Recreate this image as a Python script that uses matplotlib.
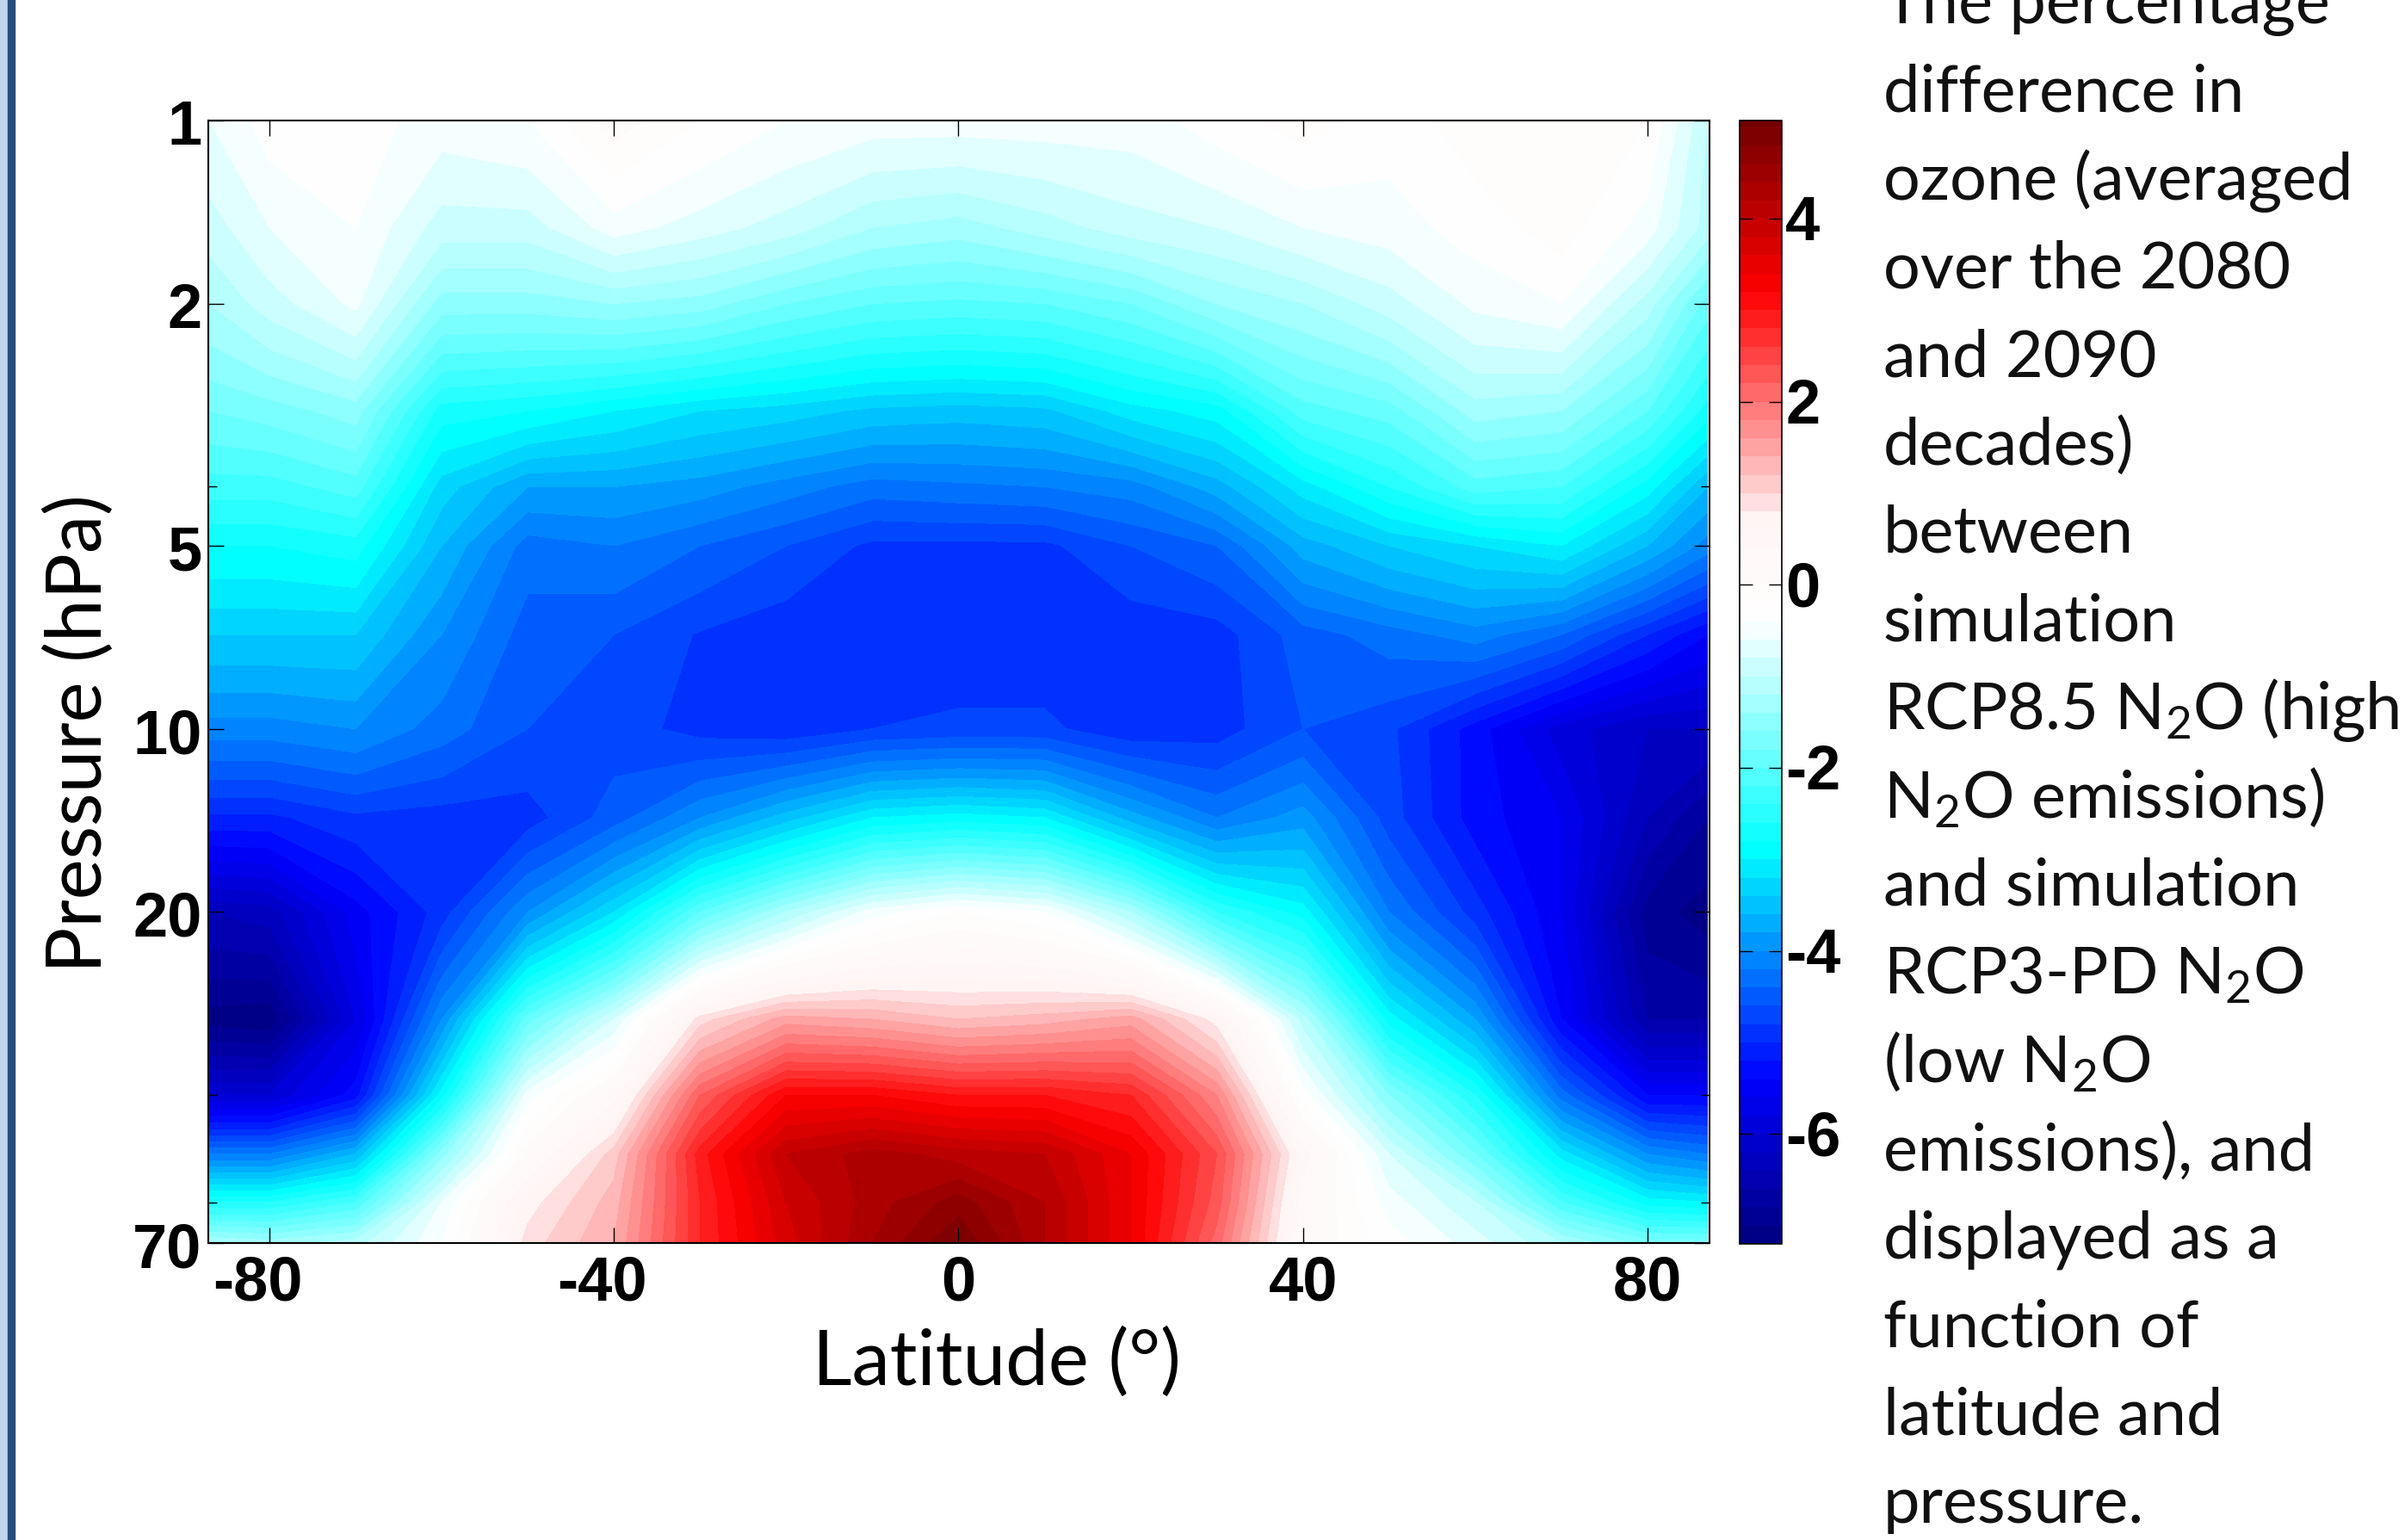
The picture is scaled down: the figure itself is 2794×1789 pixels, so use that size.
import numpy as np
import matplotlib
matplotlib.use("Agg")
import matplotlib.pyplot as plt
from matplotlib.colors import LinearSegmentedColormap, Normalize
from matplotlib.patches import Rectangle
from matplotlib.transforms import ScaledTranslation

W, H = 2794, 1790
plt.rcParams['mathtext.fontset'] = 'custom'
plt.rcParams['mathtext.rm'] = 'Lato'
plt.rcParams['mathtext.default'] = 'rm'

lats = [-87,-80,-70,-60,-50,-40,-30,-20,-10,0,10,20,30,40,50,60,70,80,87]
pressures = [1,1.5,2,3,4,5,7,10,14,20,30,40,50,60,70]

p1   = [-0.6,-0.3,-0.3,-0.5,-0.4,0.1,-0.2,-0.4,-0.5,-0.5,-0.5,-0.5,-0.3,-0.1,-0.3,-0.1,0,-0.2,-1.0]
p1_5 = [-0.9,-0.6,-0.4,-0.9,-0.9,-0.5,-0.7,-0.9,-1.2,-1.3,-1.1,-0.9,-0.8,-0.6,-0.5,-0.3,-0.1,-0.5,-1.1]
p2   = [-1.2,-0.9,-0.55,-1.5,-1.5,-1.4,-1.5,-1.8,-2.0,-2.05,-2.0,-1.8,-1.4,-1.2,-0.9,-0.55,-0.4,-1.1,-1.9]
p3   = [-1.8,-1.7,-1.5,-2.7,-2.8,-3.0,-3.2,-3.3,-3.45,-3.5,-3.45,-3.1,-2.9,-2.1,-1.9,-1.3,-1.4,-2.0,-2.7]
p4   = [-2.3,-2.3,-2.1,-3.3,-3.8,-3.8,-3.9,-4.1,-4.3,-4.25,-4.2,-4.1,-3.7,-3.1,-2.6,-2.1,-2.2,-2.9,-3.6]
p5   = [-2.8,-2.8,-2.7,-3.6,-4.3,-4.2,-4.4,-4.6,-4.85,-4.85,-4.85,-4.6,-4.4,-3.7,-3.4,-3.2,-3.0,-3.6,-4.1]
p7   = [-3.4,-3.4,-3.4,-4.0,-4.5,-4.6,-4.82,-4.95,-4.95,-4.95,-4.95,-4.95,-4.9,-4.5,-4.3,-4.1,-4.4,-5.0,-5.4]
p10  = [-4.1,-4.1,-4.0,-4.3,-4.6,-4.7,-4.88,-4.95,-4.8,-4.75,-4.75,-4.95,-4.9,-4.6,-4.75,-5.3,-5.9,-6.2,-6.2]
p14  = [-5.05,-5.05,-4.85,-4.9,-4.9,-4.5,-4.0,-3.5,-3.0,-2.9,-3.0,-3.7,-4.2,-3.9,-4.7,-5.3,-5.6,-6.4,-6.8]
p20  = [-6.4,-6.3,-5.5,-4.9,-4.0,-3.2,-2.0,-1.2,-0.5,-0.2,-0.4,-1.2,-2.4,-2.9,-4.2,-4.9,-5.6,-6.9,-7.1]
p30  = [-7.1,-7.15,-5.8,-4.0,-1.9,-0.8,0.9,1.5,1.4,1.2,1.3,1.5,0.7,-1.1,-2.9,-3.8,-5.4,-6.6,-6.6]
p40  = [-6.0,-6.0,-5.3,-2.9,-0.5,0.3,2.2,3.2,3.2,3.0,3.0,2.8,1.8,-0.3,-1.6,-2.6,-4.3,-5.4,-5.4]
p50  = [-4.2,-4.2,-3.6,-1.5,0.1,1.1,2.9,4.0,4.3,4.1,4.0,3.4,2.4,0.5,-0.8,-1.8,-3.1,-4.0,-4.2]
p60  = [-2.6,-2.6,-2.2,-0.6,0.7,1.3,2.8,3.8,4.3,4.7,4.2,3.4,2.3,0.3,-0.5,-1.0,-2.2,-2.9,-3.0]
p70  = [-1.2,-1.3,-1.1,-0.4,0.9,1.4,2.8,3.7,4.4,5.0,4.2,3.4,2.1,0.2,-0.3,-0.7,-1.2,-1.7,-1.7]
ozone_rows = [p1,p1_5,p2,p3,p4,p5,p7,p10,p14,p20,p30,p40,p50,p60,p70]

lat_ticks = [-80,-40,0,40,80]
p_major = [1,2,5,10,20,70]
p_minor = [4,40,60]
cbar_ticks = [-6,-4,-2,0,2,4]

caption = ["The percentage","difference in","ozone (averaged","over the 2080","and 2090",
           "decades)","between","simulation","RCP8.5 N$_2$O (high","N$_2$O emissions)",
           "and simulation","RCP3-PD N$_2$O","(low N$_2$O","emissions), and","displayed as a",
           "function of","latitude and","pressure."]

vmin, vmax = -7.2, 5.07
anchors = [(-7.2,(0,0,.5)),(-5.4,(0,0,1)),(-2.9,(0,1,1)),(-0.4,(1,1,1)),(0.7,(1,.96,.96)),
           (0.9,(1,.87,.87)),(3.2,(1,0,0)),(5.07,(.45,0,0))]
cmap = LinearSegmentedColormap.from_list('oz',[((v-vmin)/(vmax-vmin),c) for v,c in anchors],N=512)
norm = Normalize(vmin,vmax)
levels = np.round(np.arange(-7.2,5.21,0.2),1)

def rect(x0,y0,x1,y1):
    return [x0/W,1-y1/H,(x1-x0)/W,(y1-y0)/H]

def px_shift(dx,dy):
    return ScaledTranslation(dx/100,dy/100,fig.dpi_scale_trans)

fig = plt.figure(figsize=(W/100,H/100),dpi=100,facecolor='white')
fig.patches.append(Rectangle((0,0),9/W,1,transform=fig.transFigure,color='#c3d5ee'))
fig.patches.append(Rectangle((9/W,0),8/W,1,transform=fig.transFigure,color='#254f80'))

ax = fig.add_axes(rect(242,141,1986,1445))
Z = np.clip(np.array(ozone_rows),-7.19,5.19)
cf = ax.contourf(lats,pressures,Z,levels=levels,cmap=cmap,norm=norm)
ax.set_yscale('log')
ax.set_xlim(-87.1,87.2)
ax.set_ylim(70,1)
tick_font = dict(fontfamily='Liberation Sans',fontweight='bold',fontsize=52)
ax.set_xticks(lat_ticks)
ax.set_xticklabels([str(v) for v in lat_ticks],**tick_font)
ax.set_yticks(p_major)
ax.set_yticklabels([str(v) for v in p_major],**tick_font)
ax.set_yticks(p_minor,minor=True)
ax.set_yticklabels([],minor=True)
ax.tick_params(axis='both',which='major',direction='in',length=13,width=1,top=True,right=True,pad=9)
ax.tick_params(axis='y',which='minor',direction='in',length=7,width=1,left=True,right=True)
for s in ax.spines.values():
    s.set_linewidth(1.5)
for v,lab in zip(lat_ticks,ax.get_xticklabels()):
    if v < 0:
        lab.set_transform(lab.get_transform()+px_shift(-14,0))
for lab in ax.get_yticklabels():
    lab.set_transform(lab.get_transform()+px_shift(5,-1))
ax.set_xlabel('Latitude (°)',fontfamily='Lato',fontsize=64,va='center',ha='center')
ax.xaxis.set_label_coords((1158-242)/1744,(1445-1584)/1304)
ax.set_ylabel('Pressure (hPa)',fontfamily='Lato',fontsize=64,va='center',ha='center')
ax.yaxis.set_label_coords((93-242)/1744,(1445-852)/1304)

cax = fig.add_axes(rect(2021,141,2070,1446))
cb = fig.colorbar(cf,cax=cax)
cax.set_ylim(vmin,vmax)
cb.set_ticks(cbar_ticks)
cb.set_ticklabels([str(v) for v in cbar_ticks],**tick_font)
cax.tick_params(axis='y',direction='in',length=11,width=1,right=True,left=True,pad=3)
for lab in cax.get_yticklabels():
    lab.set_transform(lab.get_transform()+px_shift(0,2))
cb.outline.set_linewidth(1.2)

for i,line in enumerate(caption):
    fig.text(2188/W,1-(27+102.5*i)/H,line,fontfamily='Lato',fontsize=54.5,ha='left',va='baseline',color='#111111')

fig.savefig('out.png',dpi=100,facecolor='white')
